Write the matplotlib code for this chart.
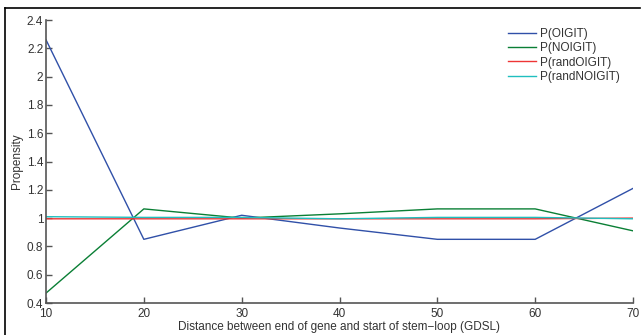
import matplotlib
matplotlib.use("Agg")
import matplotlib.pyplot as plt
from matplotlib.lines import Line2D

x = [10, 20, 30, 40, 50, 60, 70]
p_oi = [2.26, 0.85, 1.02, 0.93, 0.85, 0.85, 1.21]
p_noi = [0.47, 1.065, 1.0, 1.03, 1.065, 1.065, 0.91]
p_rand_oi = [0.995, 0.995, 0.995, 0.995, 0.995, 0.995, 1.0]
p_rand_noi = [1.01, 1.005, 1.005, 0.995, 1.005, 1.005, 0.995]
labels = ["P(OIGIT)", "P(NOIGIT)", "P(randOIGIT)", "P(randNOIGIT)"]
colors = ["#3050a8", "#0a7f35", "#ee3535", "#20bfbf"]

plt.rcParams['font.family'] = ['Liberation Sans', 'DejaVu Sans']
fig = plt.figure(figsize=(6.42, 3.35), dpi=100)
ax = fig.add_axes([46/642, 32/335, (633-46)/642, (303-20)/335])

for ys, c, l in zip([p_oi, p_noi, p_rand_oi, p_rand_noi], colors, labels):
    ax.plot(x, ys, color=c, lw=1.0, label=l)

ax.set_xlim(10, 70)
ax.set_ylim(0.4, 2.4)
ax.set_xticks([10, 20, 30, 40, 50, 60, 70])
ax.set_yticks([0.4, 0.6, 0.8, 1, 1.2, 1.4, 1.6, 1.8, 2, 2.2, 2.4])
ax.set_yticklabels(['0.4', '0.6', '0.8', '1', '1.2', '1.4', '1.6', '1.8', '2', '2.2', '2.4'])
for s in ['top', 'right']:
    ax.spines[s].set_visible(False)
for s in ['left', 'bottom']:
    ax.spines[s].set_color('#555555')
    ax.spines[s].set_linewidth(1.2)
ax.tick_params(direction='in', length=4, width=1.0, color='#555555', labelsize=8.5, labelcolor='#333333')
ax.tick_params(axis='x', pad=3.5)
ax.tick_params(axis='y', pad=2)
ax.set_xlabel('Distance between end of gene and start of stem\u2212loop (GDSL)', fontsize=8.5, color='#333333', labelpad=1)
ax.set_ylabel('Propensity', fontsize=8.5, color='#333333', labelpad=3)

leg = ax.legend(loc='upper right', bbox_to_anchor=(0.986, 0.989), frameon=False, fontsize=8.5,
                handlelength=2.4, handletextpad=0.35, labelspacing=0.2, borderaxespad=0)
for t in leg.get_texts():
    t.set_color('#333333')

fig.add_artist(Line2D([5/642, 640/642], [1-8/335, 1-8/335], color='black', lw=1.2, transform=fig.transFigure))
fig.add_artist(Line2D([5/642, 5/642], [0, 1-8/335], color='black', lw=1.2, transform=fig.transFigure))

fig.savefig('out.png', dpi=100)
